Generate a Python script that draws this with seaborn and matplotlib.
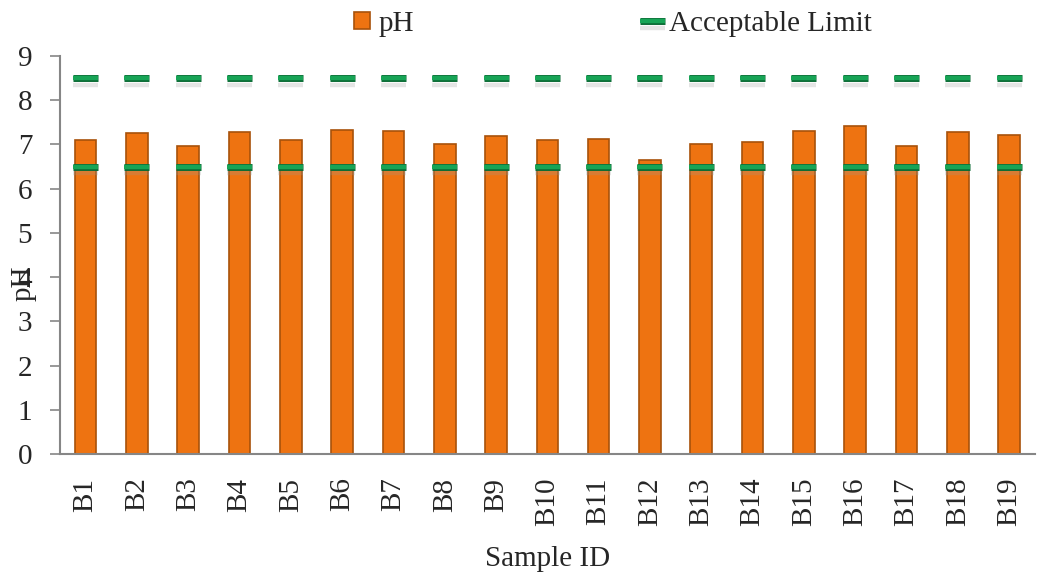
import matplotlib
matplotlib.use("Agg")
import matplotlib.pyplot as plt
import matplotlib.patheffects as pe
import seaborn as sns
import pandas as pd

samples = ["B1", "B2", "B3", "B4", "B5", "B6", "B7", "B8", "B9", "B10",
           "B11", "B12", "B13", "B14", "B15", "B16", "B17", "B18", "B19"]
ph = [7.10, 7.26, 6.97, 7.28, 7.10, 7.32, 7.30, 7.01, 7.19, 7.10,
      7.12, 6.64, 7.01, 7.05, 7.30, 7.41, 6.97, 7.28, 7.21]
upper_limit = [8.5] * len(samples)
lower_limit = [6.5] * len(samples)
yticks = [0, 1, 2, 3, 4, 5, 6, 7, 8, 9]

sns.set_theme(style="white")
plt.rcParams['font.family'] = ['Liberation Serif', 'DejaVu Serif']

df = pd.DataFrame({"Sample ID": samples, "pH": ph,
                   "upper": upper_limit, "lower": lower_limit})

fig = plt.figure(figsize=(10.41, 5.76), dpi=100)
ax = fig.add_axes([0.0576, 0.2118, 0.9364, 0.691])

sns.barplot(data=df, x="Sample ID", y="pH", color="#EE7311", width=0.42,
            edgecolor="#A8520A", linewidth=1.2, saturation=1, ax=ax, label="pH")

limit_effects = [pe.SimpleLineShadow(offset=(0, -5), shadow_color="#999999", alpha=0.25),
                 pe.Stroke(linewidth=5.0, foreground="#0B6B35"),
                 pe.Normal()]
for col, lab in (("upper", "Acceptable Limit"), ("lower", None)):
    ln, = ax.plot(df["Sample ID"], df[col], linestyle="none", marker="_",
                  markersize=18, markeredgewidth=3.2, color="#17A456", label=lab)
    ln.set_path_effects(limit_effects)

ax.set_ylim(0, 9)
ax.set_yticks(yticks)
ax.set_xlim(-0.5, len(samples) - 0.5)
ax.set_xticks(range(len(samples)))
ax.set_xticklabels(samples, rotation=90, fontsize=21)
ax.tick_params(axis="x", which="major", length=0, pad=17)
ax.set_xticks([i - 0.5 for i in range(len(samples) + 1)], minor=True)
ax.tick_params(axis="x", which="minor", length=8, width=1.2, color="#868686", direction="out")
ax.tick_params(axis="y", labelsize=21, length=7, width=1.2, color="#868686",
               direction="out", left=True, pad=13)

for s in ("top", "right"):
    ax.spines[s].set_visible(False)
for s in ("left", "bottom"):
    ax.spines[s].set_color("#868686")
    ax.spines[s].set_linewidth(1.5)

ax.set_xlabel("Sample ID", fontsize=21, labelpad=14)
ax.set_ylabel("pH", fontsize=21)
ax.yaxis.set_label_coords(-0.024, 0.43)

handles, labels = ax.get_legend_handles_labels()
order = [labels.index("pH"), labels.index("Acceptable Limit")]
ax.legend([handles[i] for i in order], [labels[i] for i in order],
          loc="lower center", bbox_to_anchor=(0.567, 1.0), ncol=2, frameon=False,
          fontsize=21, handlelength=0.55, handleheight=0.55, handletextpad=0.3,
          columnspacing=7.9, borderaxespad=0.25)

fig.savefig("out.png", dpi=100)
